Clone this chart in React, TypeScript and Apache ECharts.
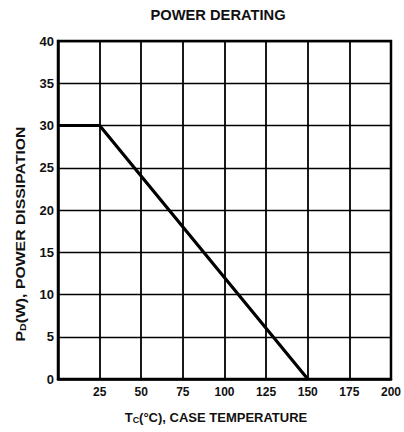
import React, { useEffect, useRef } from "react";
import * as echarts from "echarts";

const xTicks = [0, 25, 50, 75, 100, 125, 150, 175, 200];
const yTicks = [0, 5, 10, 15, 20, 25, 30, 35, 40];
const derating: [number, number][] = [
  [0, 30],
  [25, 30],
  [150, 0],
];
const titleText = "POWER DERATING";

export default function App() {
  const ref = useRef<HTMLDivElement>(null);
  useEffect(() => {
    if (!ref.current) return;
    const chart = echarts.init(ref.current, null, { renderer: "svg" });
    const font = "'Liberation Sans', Arial, sans-serif";
    chart.setOption({
      animation: false,
      backgroundColor: "#ffffff",
      grid: {
        left: 58,
        right: 9,
        top: 41,
        bottom: 53,
        show: true,
        borderColor: "#000",
        borderWidth: 2.5,
        backgroundColor: "transparent",
      },
      xAxis: {
        type: "value",
        min: xTicks[0],
        max: xTicks[xTicks.length - 1],
        interval: 25,
        axisLine: { show: true, lineStyle: { color: "#000", width: 2.5 } },
        axisTick: { show: false },
        splitLine: { show: true, lineStyle: { color: "#000", width: 1.8 } },
        axisLabel: {
          margin: 7,
          fontFamily: font,
          fontWeight: "bold",
          fontSize: 12,
          color: "#111",
          formatter: (v: number) => (v === 0 ? "" : String(v)),
        },
      },
      yAxis: {
        type: "value",
        min: yTicks[0],
        max: yTicks[yTicks.length - 1],
        interval: 5,
        axisLine: { show: true, lineStyle: { color: "#000", width: 2.5 } },
        axisTick: { show: false },
        splitLine: { show: true, lineStyle: { color: "#000", width: 1.3 } },
        axisLabel: {
          margin: 4,
          fontFamily: font,
          fontWeight: "bold",
          fontSize: 13,
          color: "#111",
        },
      },
      graphic: [
        {
          type: "text",
          x: 218,
          y: 15,
          scaleX: 1.05,
          style: {
            text: titleText,
            align: "center",
            verticalAlign: "middle",
            fill: "#111",
            font: `bold 14px ${font}`,
          },
        },
        {
          type: "text",
          x: 216,
          y: 418,
          scaleX: 1.04,
          style: {
            text: "{m|T}{s|C}{m|(°C), CASE TEMPERATURE}",
            align: "center",
            verticalAlign: "middle",
            fill: "#111",
            rich: {
              m: { fontFamily: font, fontWeight: "bold", fontSize: 12.5, fill: "#111" },
              s: { fontFamily: font, fontWeight: "bold", fontSize: 8.5, fill: "#111", verticalAlign: "bottom", padding: [4, 0, 0, 0] },
            },
          },
        },
        {
          type: "text",
          x: 20,
          y: 234,
          rotation: Math.PI / 2,
          scaleX: 1.17,
          style: {
            text: "{m|P}{s|D}{m|(W), POWER DISSIPATION}",
            align: "center",
            verticalAlign: "middle",
            fill: "#111",
            rich: {
              m: { fontFamily: font, fontWeight: "bold", fontSize: 13.5, fill: "#111" },
              s: { fontFamily: font, fontWeight: "bold", fontSize: 9, fill: "#111", verticalAlign: "bottom", padding: [4, 0, 0, 0] },
            },
          },
        },
      ],
      series: [
        {
          type: "line",
          data: derating,
          symbol: "none",
          lineStyle: { color: "#000", width: 3.2 },
        },
      ],
    });
    return () => chart.dispose();
  }, []);
  return <div ref={ref} style={{ width: 404, height: 432, position: "absolute", left: 0, top: 0 }} />;
}
